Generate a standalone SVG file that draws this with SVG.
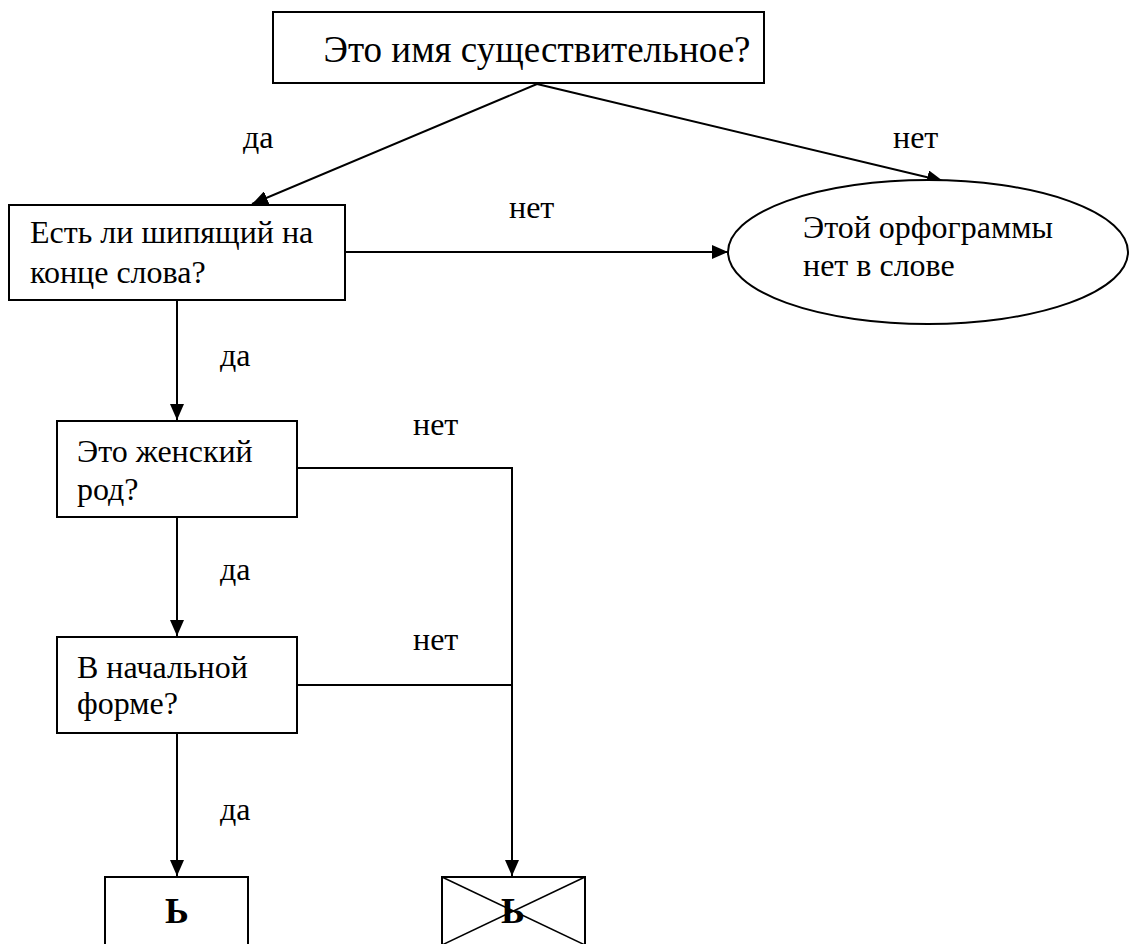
<svg xmlns="http://www.w3.org/2000/svg" width="1129" height="944" viewBox="0 0 1129 944">
<style>
.box{fill:#fff;stroke:#000;stroke-width:2}
.ln{fill:none;stroke:#000;stroke-width:2}
.t{font-family:"Liberation Serif","DejaVu Serif",serif;font-size:32px;fill:#000}
.tt{font-family:"Liberation Serif","DejaVu Serif",serif;font-size:37px;fill:#000}
.b{font-family:"Liberation Serif","DejaVu Serif",serif;font-size:36px;font-weight:bold;fill:#000}
</style>
<defs>
<marker id="ah" markerUnits="userSpaceOnUse" markerWidth="18" markerHeight="14" refX="16" refY="7" orient="auto">
<path d="M0,0 L16,7 L0,14 Z" fill="#000"/>
</marker>
</defs>
<rect width="1129" height="944" fill="#fff"/>
<g id="connectors">
<line class="ln" x1="537" y1="84" x2="252" y2="204" marker-end="url(#ah)"/>
<line class="ln" x1="537" y1="84" x2="943" y2="181" marker-end="url(#ah)"/>
<line class="ln" x1="345" y1="252" x2="728" y2="252" marker-end="url(#ah)"/>
<line class="ln" x1="177" y1="300" x2="177" y2="420" marker-end="url(#ah)"/>
<line class="ln" x1="177" y1="517" x2="177" y2="636" marker-end="url(#ah)"/>
<line class="ln" x1="177" y1="733" x2="177" y2="876" marker-end="url(#ah)"/>
<polyline class="ln" points="297,468 512,468 512,876" marker-end="url(#ah)"/>
<line class="ln" x1="297" y1="685" x2="512" y2="685"/>
<text class="t" x="243" y="148">да</text>
<text class="t" x="893" y="148">нет</text>
<text class="t" x="509" y="218">нет</text>
<text class="t" x="220" y="366">да</text>
<text class="t" x="413" y="435">нет</text>
<text class="t" x="220" y="580">да</text>
<text class="t" x="413" y="650">нет</text>
<text class="t" x="220" y="820">да</text>
</g>
<g id="n1">
<rect class="box" x="273" y="12" width="491" height="71"/>
<text class="tt" x="537" y="62" text-anchor="middle">Это имя существительное?</text>
</g>
<g id="n2">
<rect class="box" x="9" y="205" width="336" height="95"/>
<text class="t" x="30" y="243">Есть ли шипящий на</text>
<text class="t" x="30" y="283">конце слова?</text>
</g>
<g id="n3">
<ellipse class="box" cx="928" cy="252" rx="200" ry="72"/>
<text class="t" x="803" y="238">Этой орфограммы</text>
<text class="t" x="803" y="276">нет в слове</text>
</g>
<g id="n4">
<rect class="box" x="57" y="421" width="240" height="96"/>
<text class="t" x="77" y="462">Это женский</text>
<text class="t" x="77" y="500">род?</text>
</g>
<g id="n5">
<rect class="box" x="57" y="637" width="240" height="96"/>
<text class="t" x="77" y="678">В начальной</text>
<text class="t" x="77" y="714">форме?</text>
</g>
<g id="n6">
<rect class="box" x="105" y="877" width="143" height="68"/>
<text class="b" x="177" y="923" text-anchor="middle">Ь</text>
</g>
<g id="n7">
<rect class="box" x="442" y="877" width="143" height="68"/>
<line x1="442" y1="877" x2="585" y2="945" stroke="#000" stroke-width="1.5"/>
<line x1="442" y1="945" x2="585" y2="877" stroke="#000" stroke-width="1.5"/>
<text class="b" x="513" y="923" text-anchor="middle">Ь</text>
</g>
</svg>
